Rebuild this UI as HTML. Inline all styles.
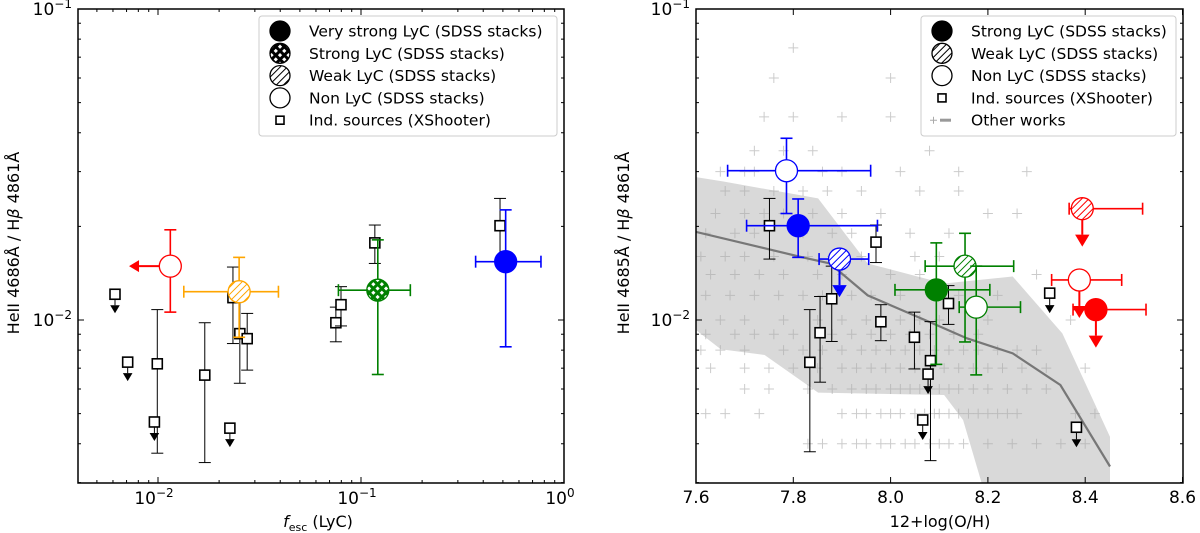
<!DOCTYPE html>
<html><head><meta charset="utf-8"><style>
body{margin:0;background:#fff;}
svg{display:block;font-family:"DejaVu Sans","Liberation Sans",sans-serif;}
</style></head><body>
<svg id="fig" width="1200" height="533" viewBox="0 0 1200 533" xmlns="http://www.w3.org/2000/svg">
<defs>
<pattern id="hatchO" patternUnits="userSpaceOnUse" width="5" height="5" patternTransform="rotate(45)"><rect width="5" height="5" fill="#fff"/><line x1="0" y1="0" x2="0" y2="5" stroke="orange" stroke-width="2"/></pattern>
<pattern id="hatchB" patternUnits="userSpaceOnUse" width="5" height="5" patternTransform="rotate(45)"><rect width="5" height="5" fill="#fff"/><line x1="0" y1="0" x2="0" y2="5" stroke="blue" stroke-width="2"/></pattern>
<pattern id="hatchG" patternUnits="userSpaceOnUse" width="5" height="5" patternTransform="rotate(45)"><rect width="5" height="5" fill="#fff"/><line x1="0" y1="0" x2="0" y2="5" stroke="green" stroke-width="2"/></pattern>
<pattern id="hatchR" patternUnits="userSpaceOnUse" width="5" height="5" patternTransform="rotate(45)"><rect width="5" height="5" fill="#fff"/><line x1="0" y1="0" x2="0" y2="5" stroke="red" stroke-width="2"/></pattern>
<pattern id="hatchK" patternUnits="userSpaceOnUse" width="5" height="5" patternTransform="rotate(45)"><rect width="5" height="5" fill="#fff"/><line x1="0" y1="0" x2="0" y2="5" stroke="#000" stroke-width="2"/></pattern>
<pattern id="xhatchG" patternUnits="userSpaceOnUse" width="6" height="6" patternTransform="rotate(45)"><rect width="6" height="6" fill="green"/><rect x="1.5" y="1.5" width="3" height="3" fill="#fff"/></pattern>
<pattern id="xhatchK" patternUnits="userSpaceOnUse" width="6" height="6" patternTransform="rotate(45)"><rect width="6" height="6" fill="#000"/><rect x="1.5" y="1.5" width="3" height="3" fill="#fff"/></pattern>
</defs>
</svg>
<script>
// ---------- LEFT PANEL DATA ----------
const L_stackNames=['non-lyc','weak-lyc','strong-lyc','very-strong-lyc'];
const L_stackX=[0.0115,0.0251,0.121,0.516];
const L_stackY=[0.0149,0.01233,0.01247,0.0154];
const L_stackXlo=[null,0.0134,0.0774,0.367];
const L_stackXhi=[null,0.0392,0.175,0.77];
const L_stackYlo=[0.0106,0.0088,0.00668,0.0082];
const L_stackYhi=[0.0195,0.0159,0.0181,0.0226];
const L_stackColor=['red','orange','green','blue'];
const L_stackFill=['#fff','url(#hatchO)','url(#xhatchG)','blue'];
const L_arrowLeft=[0.0072,null,null,null];
const L_sqX=[0.00614,0.00709,0.00992,0.0096,0.0170,0.0226,0.0234,0.0253,0.0275,0.0752,0.0797,0.117,0.484];
const L_sqY=[0.0121,0.00732,0.00723,0.0047,0.00665,0.00449,0.0118,0.00904,0.00871,0.0098,0.0112,0.0177,0.0201];
const L_sqLo=[null,null,0.00373,null,0.00348,null,0.0084,0.00626,0.0069,0.00851,0.00957,0.0152,0.0154];
const L_sqHi=[null,null,0.0108,null,0.0098,null,0.0148,0.0118,0.0105,0.011,0.0128,0.0202,0.0246];
const L_sqUpper=[true,true,false,true,false,true,false,false,false,false,false,false,false];
// ---------- RIGHT PANEL DATA ----------
const R_stackNames=['blue-non-lyc','blue-strong-lyc','blue-weak-lyc','green-strong-lyc','green-weak-lyc','green-non-lyc','red-weak-lyc','red-non-lyc','red-strong-lyc'];
const R_stackX=[7.786,7.810,7.895,8.094,8.153,8.176,8.394,8.388,8.422];
const R_stackY=[0.0302,0.0201,0.0157,0.0125,0.0149,0.0110,0.0228,0.01345,0.0108];
const R_stackXlo=[7.665,7.704,7.853,8.009,8.071,8.141,8.367,8.331,8.375];
const R_stackXhi=[7.959,7.973,7.955,8.204,8.253,8.267,8.518,8.475,8.525];
const R_stackYlo=[0.0220,0.0159,null,0.0072,0.0085,0.00666,null,null,null];
const R_stackYhi=[0.0384,0.0245,null,0.0177,0.0190,0.0149,null,null,null];
const R_stackColor=['blue','blue','blue','green','green','green','red','red','red'];
const R_stackFill=['#fff','blue','url(#hatchB)','green','url(#hatchG)','#fff','url(#hatchR)','#fff','red'];
const R_stackUpper=[false,false,true,false,false,false,true,true,true];
const R_sqX=[7.751,7.970,7.879,7.855,7.834,7.980,8.049,8.082,8.077,8.119,8.066,8.327,8.382];
const R_sqY=[0.0201,0.0178,0.0117,0.0091,0.00731,0.00987,0.0088,0.0074,0.0067,0.0113,0.00477,0.0122,0.00452];
const R_sqLo=[0.0157,0.0153,0.00853,0.00631,0.00377,0.00858,0.00696,0.00353,null,0.00968,null,null,null];
const R_sqHi=[0.0246,0.0202,0.0149,0.0119,0.0108,0.0112,0.0106,0.00988,null,0.0129,null,null,null];
const R_sqUpper=[false,false,false,false,false,false,false,false,true,false,true,true,true];
const R_medX=[7.6,7.812,7.875,7.953,8.086,8.157,8.251,8.349,8.451];
const R_medY=[0.0192,0.0160,0.0152,0.0120,0.00976,0.00873,0.00781,0.00618,0.00338];
const R_bandUpX=[7.6,7.655,7.851,7.953,8.110,8.251,8.353,8.451,8.451];
const R_bandUpY=[0.0288,0.0279,0.0246,0.0152,0.0131,0.0138,0.00906,0.00421,0.00296];
const R_bandLoX=[7.6,7.651,7.741,7.851,8.110,8.149,8.188];
const R_bandLoY=[0.00929,0.00805,0.00772,0.00584,0.00574,0.00477,0.00296];
const R_crossLevels=[0.004,0.005,0.006,0.007,0.008,0.009,0.010,0.012,0.014,0.016,0.019,0.022,0.026,0.030,0.035,0.045,0.060,0.075];
const R_crossX=[
[7.83,7.86,7.9,7.93,7.95,7.98,8.0,8.03,8.05,8.08,8.1,8.12,8.15,8.2,8.25,8.3,8.35,8.4],
[7.62,7.66,7.73,7.9,7.93,7.95,7.98,8.0,8.02,8.05,8.07,8.09,8.1,8.12,8.14,8.16,8.18,8.2,8.22,8.24,8.26,8.38,8.42],
[7.7,7.75,7.83,7.88,7.92,7.95,7.97,8.0,8.02,8.04,8.06,8.08,8.1,8.12,8.14,8.17,8.2,8.24,8.28,8.32],
[7.63,7.7,7.75,7.8,7.85,7.9,7.93,7.96,7.99,8.02,8.05,8.08,8.11,8.14,8.17,8.2,8.23,8.27,8.32,8.4],
[7.61,7.65,7.7,7.78,7.82,7.86,7.9,7.94,7.97,8.0,8.03,8.06,8.09,8.12,8.15,8.18,8.22,8.26,8.3],
[7.62,7.68,7.72,7.76,7.8,7.88,7.92,7.96,8.0,8.04,8.08,8.13,8.18],
[7.65,7.7,7.78,7.85,7.9,7.95,8.02,8.06,8.1,8.2,8.37],
[7.62,7.67,7.72,7.77,7.82,7.86,7.92,7.96,8.02,8.14,8.22],
[7.63,7.68,7.73,7.78,7.85,7.9,8.0,8.06,8.3],
[7.61,7.66,7.7,7.76,7.83,7.88,7.94,8.05,8.1],
[7.62,7.68,7.72,7.82,7.88,7.92,8.04,8.12],
[7.64,7.7,7.74,7.78,7.84,7.9,7.98,8.2,8.26],
[7.66,7.7,7.76,7.82,7.87,7.94,8.06,8.14],
[7.65,7.7,7.72,7.8,7.86,7.9,8.02,8.14,8.28],
[7.72,7.78,7.84,8.08],
[7.74,7.8,7.9,8.0],
[7.76,8.0],
[7.8]];
const R_xTicks=[7.6,7.8,8.0,8.2,8.4,8.6];

// ---------- helpers ----------
const NS='http://www.w3.org/2000/svg';
const svg=document.getElementById('fig');
function mk(tag,attrs,parent){const e=document.createElementNS(NS,tag);for(const k in attrs)e.setAttribute(k,attrs[k]);(parent||svg).appendChild(e);return e;}
const TOP=9,BOT=483,Y2=320,DEC=311;
function yS(v){return Y2-(Math.log10(v)+2)*DEC;}
function xL(v){return 158+(Math.log10(v)+2)*203;}
function xR(v){return 696+(v-7.6)/0.2*97.3;}

// ---------- RIGHT PANEL background ----------
const gR=mk('g',{});


const clip=mk('clipPath',{id:'clipR'},gR);
mk('rect',{x:696,y:TOP,width:487,height:BOT-TOP},clip);
const gRc=mk('g',{'clip-path':'url(#clipR)'},gR);
let bp=[];
for(let i=0;i<R_bandUpX.length;i++)bp.push(xR(R_bandUpX[i])+','+yS(R_bandUpY[i]));
for(let i=R_bandLoX.length-1;i>=0;i--)bp.push(xR(R_bandLoX[i])+','+yS(R_bandLoY[i]));
const band=mk('polygon',{points:bp.join(' '),fill:'#d9d9d9'},gRc);


R_crossLevels.forEach((lv,i)=>{R_crossX[i].forEach(xv=>{
  const cx=xR(xv),cy=yS(lv);
  const c=mk('path',{d:`M${cx-5},${cy}H${cx+5}M${cx},${cy-5}V${cy+5}`,stroke:'#aaa','stroke-width':1,opacity:0.6},gRc);
  
  
});});
const med=mk('polyline',{points:R_medX.map((x,i)=>xR(x)+','+yS(R_medY[i])).join(' '),fill:'none',stroke:'#777','stroke-width':2.2},gRc);



// ---------- axes ----------
function frame(x0,x1,name){
  const r=mk('rect',{x:x0,y:TOP,width:x1-x0,height:BOT-TOP,fill:'none',stroke:'#000','stroke-width':1.5});
  
  
  for(let d=-3;d<=-1;d++)for(let m=1;m<10;m++){
    const v=m*Math.pow(10,d);const y=yS(v);if(y<TOP-0.5||y>BOT+0.5)continue;
    const len=m===1?6:3;
    mk('line',{x1:x0,y1:y,x2:x0+len,y2:y,stroke:'#000','stroke-width':1});
    mk('line',{x1:x1,y1:y,x2:x1-len,y2:y,stroke:'#000','stroke-width':1});
  }
  [-1,-2].forEach(d=>{
    const y=yS(Math.pow(10,d));
    const t=mk('text',{x:x0-6,y:y+6,'text-anchor':'end','font-size':17});
    
    
    t.innerHTML='10<tspan dy="-7" font-size="12">−'+(-d)+'</tspan>';
  });
}
frame(78,564,'left-axes-frame');
frame(696,1183,'right-axes-frame');
for(let d=-3;d<=0;d++)for(let m=1;m<10;m++){
  const v=m*Math.pow(10,d);const x=xL(v);if(x<77.5||x>564.5)continue;
  const len=m===1?6:3;
  mk('line',{x1:x,y1:BOT,x2:x,y2:BOT-len,stroke:'#000','stroke-width':1});
  mk('line',{x1:x,y1:TOP,x2:x,y2:TOP+len,stroke:'#000','stroke-width':1});
}
[[-2,'−2'],[-1,'−1'],[0,'0']].forEach(([d,s])=>{
  const t=mk('text',{x:xL(Math.pow(10,d))-4,y:504,'text-anchor':'middle','font-size':17});
  
  
  t.innerHTML='10<tspan dy="-7" font-size="12">'+s+'</tspan>';
});
R_xTicks.forEach(v=>{
  const x=xR(v);
  mk('line',{x1:x,y1:BOT,x2:x,y2:BOT-6,stroke:'#000','stroke-width':1});
  mk('line',{x1:x,y1:TOP,x2:x,y2:TOP+6,stroke:'#000','stroke-width':1});
  const t=mk('text',{x:x,y:503,'text-anchor':'middle','font-size':17});
  
  
  t.textContent=v.toFixed(1);
});
let t=mk('text',{x:318,y:527,'text-anchor':'middle','font-size':16});


t.innerHTML='<tspan font-style="italic">f</tspan><tspan font-size="11" dy="4">esc</tspan><tspan dy="-4"> (LyC)</tspan>';
t=mk('text',{x:940,y:527,'text-anchor':'middle','font-size':16});


t.textContent='12+log(O/H)';
t=mk('text',{x:0,y:0,'text-anchor':'middle','font-size':16,transform:'translate(19,243) rotate(-90)'});


t.innerHTML='HeII 4686Å / H<tspan font-style="italic">β</tspan> 4861Å';
t=mk('text',{x:0,y:0,'text-anchor':'middle','font-size':16,transform:'translate(629,243) rotate(-90)'});


t.innerHTML='HeII 4685Å / H<tspan font-style="italic">β</tspan> 4861Å';

// ---------- drawing primitives ----------
function errV(g,x,y1,y2,col,w){mk('line',{x1:x,y1:y1,x2:x,y2:y2,stroke:col,'stroke-width':w},g);mk('line',{x1:x-6,y1:y1,x2:x+6,y2:y1,stroke:col,'stroke-width':w},g);mk('line',{x1:x-6,y1:y2,x2:x+6,y2:y2,stroke:col,'stroke-width':w},g);}
function errH(g,y,x1,x2,col,w){mk('line',{x1:x1,y1:y,x2:x2,y2:y,stroke:col,'stroke-width':w},g);mk('line',{x1:x1,y1:y-6,x2:x1,y2:y+6,stroke:col,'stroke-width':w},g);mk('line',{x1:x2,y1:y-6,x2:x2,y2:y+6,stroke:col,'stroke-width':w},g);}
function arrowDown(g,x,y,y2,col,w,hs){mk('line',{x1:x,y1:y,x2:x,y2:y2-hs,stroke:col,'stroke-width':w},g);mk('polygon',{points:`${x-hs*0.6},${y2-hs} ${x+hs*0.6},${y2-hs} ${x},${y2}`,fill:col},g);}
function square(g,x,y){mk('rect',{x:x-5,y:y-5,width:10,height:10,fill:'#fff',stroke:'#000','stroke-width':1.6},g);}

// ---------- LEFT PANEL ----------
const gL=mk('g',{});


L_sqX.forEach((xv,i)=>{
  const g=mk('g',{},gL);
  
  
  const x=xL(xv),y=yS(L_sqY[i]);
  if(L_sqLo[i]!==null)errV(g,x,yS(L_sqHi[i]),yS(L_sqLo[i]),'#000',1);
  if(L_sqUpper[i])arrowDown(g,x,y,y+19,'#000',1,8);
  square(g,x,y);
});
L_stackX.forEach((xv,i)=>{
  const g=mk('g',{},gL);
  
  
  const x=xL(xv),y=yS(L_stackY[i]),c=L_stackColor[i];
  errV(g,x,yS(L_stackYhi[i]),yS(L_stackYlo[i]),c,1.6);
  if(L_stackXlo[i]!==null)errH(g,y,xL(L_stackXlo[i]),xL(L_stackXhi[i]),c,1.6);
  if(L_arrowLeft[i]!==null){const xa=xL(L_arrowLeft[i]);mk('line',{x1:x,y1:y,x2:xa+10,y2:y,stroke:c,'stroke-width':2},g);mk('polygon',{points:`${xa+10},${y-6} ${xa+10},${y+6} ${xa},${y}`,fill:c},g);}
  mk('ellipse',{cx:x,cy:y,rx:11,ry:11,fill:L_stackFill[i],stroke:c,'stroke-width':1.3},g);
});

// ---------- RIGHT PANEL marks ----------
R_sqX.forEach((xv,i)=>{
  const g=mk('g',{},gR);
  
  
  const x=xR(xv),y=yS(R_sqY[i]);
  if(R_sqLo[i]!==null)errV(g,x,yS(R_sqHi[i]),yS(R_sqLo[i]),'#000',1);
  if(R_sqUpper[i])arrowDown(g,x,y,y+20,'#000',1,8);
  square(g,x,y);
});
R_stackX.forEach((xv,i)=>{
  const g=mk('g',{},gR);
  
  
  const x=xR(xv),y=yS(R_stackY[i]),c=R_stackColor[i];
  if(R_stackYlo[i]!==null)errV(g,x,yS(R_stackYhi[i]),yS(R_stackYlo[i]),c,1.6);
  errH(g,y,xR(R_stackXlo[i]),xR(R_stackXhi[i]),c,1.6);
  if(R_stackUpper[i])arrowDown(g,x,y,y+38,c,2,12);
  mk('ellipse',{cx:x,cy:y,rx:11,ry:11,fill:R_stackFill[i],stroke:c,'stroke-width':1.3},g);
});

// ---------- legends ----------
function legend(x0,x1,entries,name){
  const g=mk('g',{});
  
  
  mk('rect',{x:x0,y:16,width:x1-x0,height:120,rx:3,fill:'#fff','fill-opacity':0.85,stroke:'#ccc','stroke-width':1},g);
  entries.forEach((e,i)=>{
    const y=31+i*22.3,mx=x0+21;
    const eg=mk('g',{},g);
    
    
    if(e[0]==='sq')mk('rect',{x:mx-4,y:y-4,width:8,height:8,fill:'#fff',stroke:'#000','stroke-width':1.6},eg);
    else if(e[0]==='other'){mk('path',{d:`M${mx-12},${y}h7M${mx-8.5},${y-3.5}v7`,stroke:'#aaa','stroke-width':1},eg);mk('line',{x1:mx-2,y1:y,x2:mx+9,y2:y,stroke:'#999','stroke-width':3},eg);}
    else mk('circle',{cx:mx,cy:y,r:10,fill:e[0],stroke:'#000','stroke-width':1.3},eg);
    const tt=mk('text',{x:x0+50,y:y+5.5,'font-size':15.5},eg);
    tt.textContent=e[1];
  });
}
legend(259,557,[['#000','Very strong LyC (SDSS stacks)'],['url(#xhatchK)','Strong LyC (SDSS stacks)'],['url(#hatchK)','Weak LyC (SDSS stacks)'],['#fff','Non LyC (SDSS stacks)'],['sq','Ind. sources (XShooter)']],'legend-left');
legend(921,1176,[['#000','Strong LyC (SDSS stacks)'],['url(#hatchK)','Weak LyC (SDSS stacks)'],['#fff','Non LyC (SDSS stacks)'],['sq','Ind. sources (XShooter)'],['other','Other works']],'legend-right');
</script>
</body></html>
